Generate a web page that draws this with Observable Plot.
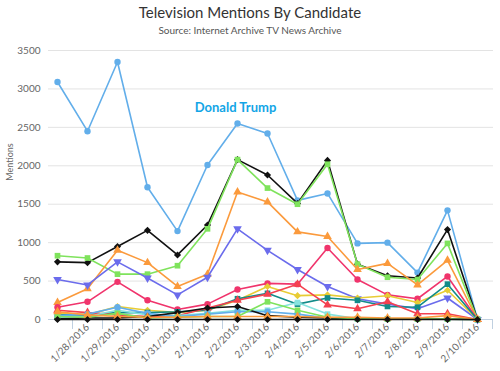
<!DOCTYPE html>
<html><head><meta charset="utf-8">
<script src="https://cdn.jsdelivr.net/npm/d3@7"></script>
<script src="https://cdn.jsdelivr.net/npm/@observablehq/plot@0.6"></script>
<style>
body{margin:0;background:#fff;font-family:Lato, "DejaVu Sans", sans-serif;}
#wrap{position:relative;width:500px;height:371px;overflow:hidden;background:#fff;}
#title{position:absolute;top:4px;left:0;width:500px;text-align:center;font-size:15px;line-height:17px;color:#333;}
#subtitle{position:absolute;top:24px;left:0;width:500px;text-align:center;font-size:10px;line-height:12px;color:#555;}
#ylabel{position:absolute;left:9px;top:162px;transform:translate(-50%,-50%) rotate(-90deg);font-size:9px;color:#666;white-space:nowrap;}
#chart{position:absolute;top:42px;left:0;}
</style></head>
<body>
<div id="wrap">
  <div id="title">Television Mentions By Candidate</div>
  <div id="subtitle">Source: Internet Archive TV News Archive</div>
  <div id="ylabel">Mentions</div>
  <div id="chart"></div>
</div>
<script>
// ---- data ----
const dates = ["1/27/2016","1/28/2016","1/29/2016","1/30/2016","1/31/2016","2/1/2016","2/2/2016","2/3/2016","2/4/2016","2/5/2016","2/6/2016","2/7/2016","2/8/2016","2/9/2016","2/10/2016"];
const xTickLabels = dates.slice(1);
const yTicks = [0, 500, 1000, 1500, 2000, 2500, 3000, 3500];

const trump    = [3090, 2450, 3350, 1720, 1150, 2010, 2550, 2420, 1550, 1640, 990, 1000, 610, 1420, 0];
const series2  = [750, 740, 950, 1160, 840, 1230, 2080, 1880, 1510, 2070, 720, 570, 540, 1170, 0];
const series3  = [830, 800, 590, 590, 700, 1180, 2080, 1710, 1500, 2020, 720, 550, 520, 990, 0];
const series4  = [220, 400, 900, 740, 430, 590, 1660, 1530, 1140, 1080, 650, 730, 450, 770, 0];
const series5  = [520, 450, 750, 540, 320, 550, 1180, 900, 650, 430, 270, 200, 140, 280, 0];
const series6  = [160, 230, 490, 250, 130, 200, 390, 470, 460, 930, 520, 320, 270, 560, 0];
const series7  = [85, 60, 170, 120, 90, 120, 250, 430, 310, 320, 280, 310, 220, 380, 0];
const series8  = [60, 60, 90, 90, 100, 120, 270, 340, 200, 280, 250, 170, 160, 460, 0];
const series9  = [120, 90, 60, 40, 50, 150, 250, 330, 460, 190, 140, 230, 75, 75, 0];
const series10 = [30, 40, 120, 60, 50, 80, 120, 120, 220, 70, 10, 10, 10, 10, 0];
const series11 = [50, 70, 160, 80, 40, 70, 100, 100, 70, 20, 10, 5, 5, 5, 0];
const series12 = [10, 20, 20, 40, 90, 150, 170, 50, 30, 20, 10, 5, 5, 5, 0];
const series13 = [40, 30, 80, 20, 30, 40, 40, 230, 120, 30, 10, 5, 5, 5, 0];
const series14 = [100, 60, 40, 30, 30, 40, 40, 40, 40, 30, 30, 20, 20, 50, 0];
const series15 = [0, 0, 0, 0, 0, 0, 0, 0, 0, 0, 0, 0, 0, 0, 0];

const seriesNames = ["Donald Trump","Series 2","Series 3","Series 4","Series 5","Series 6","Series 7","Series 8","Series 9","Series 10","Series 11","Series 12","Series 13","Series 14","Series 15"];
const seriesValues = [trump, series2, series3, series4, series5, series6, series7, series8, series9, series10, series11, series12, series13, series14, series15];
const seriesColors = ["#62aeea","#111111","#7fe35c","#fb9a3c","#6b6cec","#f0346c","#e8cc35","#128b89","#f4414f","#86e3de","#62aeea","#111111","#7fe35c","#fb9a3c","#111111"];
const seriesSymbols = ["circle","diamond","square","triangle","triangleDown","circle","diamond","square","triangle","square","circle","diamond","square","triangle","diamond"];

// ---- build ----
const triangleDown = {
  draw(context, size) {
    const y = -Math.sqrt(size / (Math.sqrt(3) * 3));
    context.moveTo(0, -y * 2);
    context.lineTo(-Math.sqrt(3) * y, y);
    context.lineTo(Math.sqrt(3) * y, y);
    context.closePath();
  }
};
const symbolMap = {circle: "circle", diamond: "diamond2", square: "square", triangle: "triangle", triangleDown};

const marks = [
  Plot.gridY(yTicks.filter(d => d > 0), {stroke: "#e3e3e3", strokeOpacity: 1, strokeWidth: 1}),
  Plot.axisY({ticks: yTicks, tickSize: 0, tickPadding: 8, label: null, fill: "#666", fontSize: 10, tickFormat: d => String(d)}),
  Plot.ruleY([0], {stroke: "#c0d0e0", strokeWidth: 1}),
  Plot.axisX({ticks: dates, tickSize: 10, dx: 15, tickFormat: () => "", stroke: "#c0d0e0", label: null}),
  Plot.axisX({ticks: xTickLabels, tickSize: 0, tickPadding: 6, tickRotate: -45, label: null, fill: "#666", fontSize: 10})
];

seriesValues.forEach((vals, k) => {
  const rows = dates.map((d, i) => ({date: d, value: vals[i], name: seriesNames[k]}));
  marks.push(Plot.line(rows, {x: "date", y: "value", stroke: seriesColors[k], strokeWidth: 1.6}));
  marks.push(Plot.dot(rows, {x: "date", y: "value", fill: seriesColors[k], stroke: "none", r: 3.2, symbol: symbolMap[seriesSymbols[k]]}));
});

const trumpIdx = 6;
marks.push(Plot.text([{date: dates[trumpIdx], value: trump[trumpIdx]}], {
  x: "date", y: "value", text: () => "Donald Trump", dy: -16, dx: -2,
  fill: "#12a5e6", fontWeight: "bold", fontSize: 13
}));

const chart = Plot.plot({
  width: 500, height: 329,
  marginTop: 8, marginBottom: 52, marginLeft: 48, marginRight: 7,
  style: {fontFamily: "Lato, 'DejaVu Sans', sans-serif", fontSize: "10px", color: "#666", background: "transparent", overflow: "visible"},
  x: {type: "point", domain: dates, range: [56.7, 476.7], padding: 0},
  y: {domain: [0, 3500]},
  marks
});
document.getElementById("chart").appendChild(chart);
</script>
</body></html>
